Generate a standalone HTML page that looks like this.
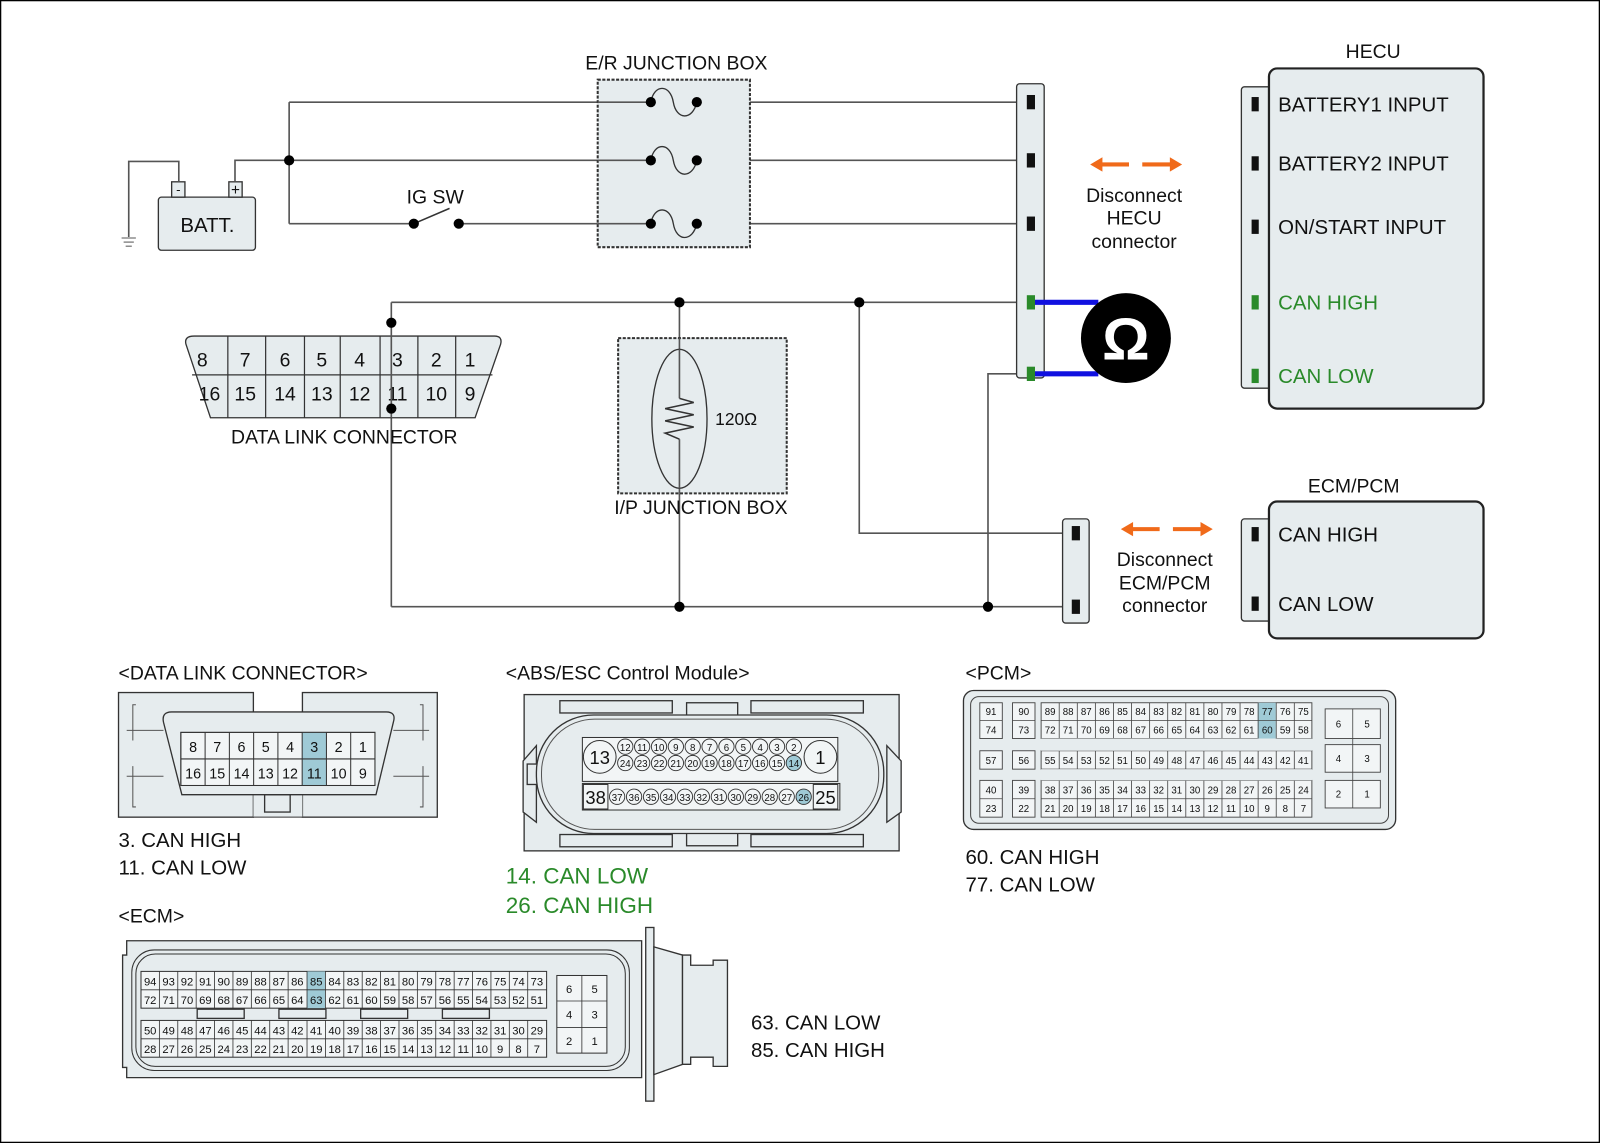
<!DOCTYPE html>
<html><head><meta charset="utf-8"><style>
html,body{margin:0;padding:0;background:#fff}
svg{display:block}
text{font-family:"Liberation Sans",sans-serif;fill:#111}
.w{stroke:#555;stroke-width:1.6;fill:none}
.b{fill:#e6ecee;stroke:#333;stroke-width:1.3}
.g{fill:#2a8a2a}
.s{font-size:11px;text-anchor:middle}
.t{font-size:9.5px;text-anchor:middle}
</style></head><body>
<svg width="1600" height="1143" viewBox="0 0 1566 1119" preserveAspectRatio="none" xmlns="http://www.w3.org/2000/svg">
<rect x="0.5" y="0.5" width="1565" height="1118" fill="#fff" stroke="#000" stroke-width="1.5"/>

<!-- battery -->
<rect x="155" y="193" width="95" height="52" rx="3" class="b"/>
<text x="203" y="227" font-size="20" text-anchor="middle">BATT.</text>
<rect x="168" y="178" width="13" height="15" class="b"/><text x="174.5" y="190" font-size="13" text-anchor="middle">-</text>
<rect x="224" y="178" width="13" height="15" class="b"/><text x="230.5" y="191" font-size="15" text-anchor="middle">+</text>
<polyline class="w" points="175,178 175,158 126,158 126,232"/>
<line x1="119" y1="233" x2="133" y2="233" stroke="#555"/><line x1="121" y1="237" x2="131" y2="237" stroke="#555"/><line x1="123" y1="241" x2="129" y2="241" stroke="#555"/>
<polyline class="w" points="230,178 230,157 283,157"/>
<line class="w" x1="283" y1="100" x2="283" y2="219"/>
<line class="w" x1="283" y1="100" x2="1008" y2="100"/>
<line class="w" x1="283" y1="157" x2="1008" y2="157"/>
<line class="w" x1="283" y1="219" x2="405" y2="219"/>
<line class="w" x1="449" y1="219" x2="1008" y2="219"/>
<line x1="405" y1="219" x2="440" y2="204" stroke="#333" stroke-width="1.5"/>
<circle cx="405" cy="219" r="5"/><circle cx="449" cy="219" r="5"/>
<circle cx="283" cy="157" r="5"/>
<text x="426" y="199" font-size="19" text-anchor="middle">IG SW</text>

<!-- E/R junction box -->
<text x="662" y="68" font-size="19" text-anchor="middle">E/R JUNCTION BOX</text>
<rect x="585" y="78" width="149" height="164" fill="#e6ecee" stroke="#333" stroke-width="2" stroke-dasharray="3,1.5"/>
<line x1="585" y1="100" x2="637" y2="100" stroke="#555" stroke-width="1.6"/><line x1="585" y1="157" x2="637" y2="157" stroke="#555" stroke-width="1.6"/><line x1="585" y1="219" x2="637" y2="219" stroke="#555" stroke-width="1.6"/>
<g fill="none" stroke="#333" stroke-width="1.3">
<path d="M637,100 C640,82 656,82 659,100 S678,118 682,100"/>
<path d="M637,157 C640,139 656,139 659,157 S678,175 682,157"/>
<path d="M637,219 C640,201 656,201 659,219 S678,237 682,219"/>
</g>
<g><circle cx="637" cy="100" r="5"/><circle cx="682" cy="100" r="5"/><circle cx="637" cy="157" r="5"/><circle cx="682" cy="157" r="5"/><circle cx="637" cy="219" r="5"/><circle cx="682" cy="219" r="5"/></g>

<!-- CAN wiring -->
<line class="w" x1="383" y1="296" x2="1008" y2="296"/>
<line class="w" x1="383" y1="296" x2="383" y2="316"/>
<line class="w" x1="383" y1="400" x2="383" y2="594"/>
<line class="w" x1="383" y1="594" x2="1052" y2="594"/>
<line class="w" x1="665" y1="296" x2="665" y2="594"/>
<polyline class="w" points="841,296 841,522 1052,522"/>
<polyline class="w" points="967,594 967,366 1008,366"/>
<circle cx="665" cy="296" r="5"/><circle cx="841" cy="296" r="5"/><circle cx="665" cy="594" r="5"/><circle cx="967" cy="594" r="5"/>

<!-- I/P junction box -->
<rect x="605" y="331" width="165" height="152" fill="#e6ecee" stroke="#333" stroke-width="2" stroke-dasharray="3,1.5"/>
<line class="w" x1="665" y1="331" x2="665" y2="483"/>
<ellipse cx="665" cy="410" rx="27" ry="68" fill="#e6ecee" stroke="#333" stroke-width="1.3"/>
<line class="w" x1="665" y1="342" x2="665" y2="390"/><line class="w" x1="665" y1="430" x2="665" y2="478"/>
<polyline fill="none" stroke="#333" stroke-width="1.5" points="665,390 679,394 651,400 679,406 651,412 679,418 651,424 665,430"/>
<text x="700" y="416" font-size="17">120Ω</text>
<text x="686" y="503" font-size="19" text-anchor="middle">I/P JUNCTION BOX</text>

<!-- DLC top -->
<path d="M190,329 L484,329 Q492,329 490,337 L465,409 L206,409 L182,337 Q180,329 190,329 Z" class="b"/>
<line x1="188" y1="367" x2="482" y2="367" stroke="#333" stroke-width="1.2"/>
<g stroke="#333" stroke-width="1.2"><line x1="223" y1="329" x2="223" y2="409"/><line x1="260" y1="329" x2="260" y2="409"/><line x1="298" y1="329" x2="298" y2="409"/><line x1="333" y1="329" x2="333" y2="409"/><line x1="372" y1="329" x2="372" y2="409"/><line x1="409" y1="329" x2="409" y2="409"/><line x1="446" y1="329" x2="446" y2="409"/></g>
<g font-size="19" text-anchor="middle">
<text x="198" y="359">8</text><text x="240" y="359">7</text><text x="279" y="359">6</text><text x="315" y="359">5</text><text x="352" y="359">4</text><text x="389" y="359">3</text><text x="427" y="359">2</text><text x="460" y="359">1</text>
<text x="205" y="392">16</text><text x="240" y="392">15</text><text x="279" y="392">14</text><text x="315" y="392">13</text><text x="352" y="392">12</text><text x="389" y="392">11</text><text x="427" y="392">10</text><text x="460" y="392">9</text></g>
<line class="w" x1="383" y1="316" x2="383" y2="409"/>
<circle cx="383" cy="316" r="5"/><circle cx="383" cy="400" r="5"/>
<text x="337" y="434" font-size="19" text-anchor="middle">DATA LINK CONNECTOR</text>

<!-- HECU side strip -->
<rect x="995" y="82" width="27" height="288" rx="3" class="b"/>
<rect x="1005" y="93" width="8" height="14" fill="#111"/><rect x="1005" y="150" width="8" height="14" fill="#111"/><rect x="1005" y="212" width="8" height="14" fill="#111"/>
<rect x="1005" y="289" width="8" height="14" class="g"/><rect x="1005" y="359" width="8" height="14" class="g"/>
<line x1="1013" y1="296" x2="1075" y2="296" stroke="#1010e0" stroke-width="5"/>
<line x1="1013" y1="366" x2="1075" y2="366" stroke="#1010e0" stroke-width="5"/>
<ellipse cx="1102" cy="331" rx="44" ry="44" fill="#000"/>
<text x="1102" y="352" font-size="58" font-weight="bold" text-anchor="middle" style="fill:#fff">Ω</text>

<!-- orange arrows -->
<g fill="#f06a1a">
<polygon points="1067,161 1079,154 1079,159 1105,159 1105,163 1079,163 1079,168"/>
<polygon points="1157,161 1145,154 1145,159 1118,159 1118,163 1145,163 1145,168"/>
<polygon points="1097,518 1109,511 1109,516 1135,516 1135,520 1109,520 1109,525"/>
<polygon points="1187,518 1175,511 1175,516 1148,516 1148,520 1175,520 1175,525"/>
</g>
<g font-size="19" text-anchor="middle">
<text x="1110" y="198">Disconnect</text><text x="1110" y="220">HECU</text><text x="1110" y="243">connector</text>
<text x="1140" y="554">Disconnect</text><text x="1140" y="577">ECM/PCM</text><text x="1140" y="599">connector</text></g>

<!-- HECU -->
<text x="1344" y="57" font-size="19" text-anchor="middle">HECU</text>
<rect x="1215" y="85" width="30" height="295" rx="3" class="b"/>
<rect x="1242" y="67" width="210" height="333" rx="8" fill="#e6ecee" stroke="#222" stroke-width="2.2"/>
<rect x="1225" y="95" width="7" height="14" fill="#111"/><rect x="1225" y="153" width="7" height="14" fill="#111"/><rect x="1225" y="215" width="7" height="14" fill="#111"/>
<rect x="1225" y="289" width="7" height="14" class="g"/><rect x="1225" y="361" width="7" height="14" class="g"/>
<g font-size="20"><text x="1251" y="109">BATTERY1 INPUT</text><text x="1251" y="167">BATTERY2 INPUT</text><text x="1251" y="229">ON/START INPUT</text>
<text x="1251" y="303" style="fill:#2a8a2a">CAN HIGH</text><text x="1251" y="375" style="fill:#2a8a2a">CAN LOW</text></g>

<!-- ECM/PCM strip + box -->
<rect x="1040" y="508" width="26" height="102" rx="3" class="b"/>
<rect x="1049" y="515" width="8" height="14" fill="#111"/><rect x="1049" y="587" width="8" height="14" fill="#111"/>
<text x="1325" y="482" font-size="19" text-anchor="middle">ECM/PCM</text>
<rect x="1215" y="508" width="30" height="100" rx="3" class="b"/>
<rect x="1242" y="491" width="210" height="134" rx="8" fill="#e6ecee" stroke="#222" stroke-width="2.2"/>
<rect x="1225" y="516" width="7" height="14" fill="#111"/><rect x="1225" y="584" width="7" height="14" fill="#111"/>
<g font-size="20"><text x="1251" y="530">CAN HIGH</text><text x="1251" y="598">CAN LOW</text></g>

<!-- bottom: DLC -->
<text x="116" y="665" font-size="19">&lt;DATA LINK CONNECTOR&gt;</text>
<rect x="116" y="678" width="132" height="122" class="b"/>
<rect x="296" y="678" width="132" height="122" class="b"/>
<rect x="248" y="700" width="48" height="100" fill="#e6ecee" stroke="none"/>
<line x1="248" y1="800" x2="296" y2="800" stroke="#333"/>
<rect x="259" y="778" width="25" height="17" class="b"/>
<g stroke="#555" fill="none"><polyline points="130,725 130,690 133,690"/><polyline points="130,750 130,790 133,790"/><polyline points="414,725 414,690 411,690"/><polyline points="414,750 414,790 411,790"/>
<line x1="124" y1="715" x2="160" y2="715"/><line x1="124" y1="760" x2="160" y2="760"/><line x1="385" y1="715" x2="420" y2="715"/><line x1="385" y1="760" x2="420" y2="760"/></g>
<path d="M168,697 L378,697 Q388,697 385,707 L368,778 L178,778 L160,707 Q158,697 168,697 Z" class="b"/>
<rect x="177" y="717" width="190" height="52" fill="#f2f5f6" stroke="#333"/>
<rect x="296" y="717" width="23.5" height="52" fill="#9fcad6"/>
<line x1="177" y1="743" x2="367" y2="743" stroke="#333"/>
<g stroke="#333"><line x1="200.75" y1="717" x2="200.75" y2="769"/><line x1="224.5" y1="717" x2="224.5" y2="769"/><line x1="248.25" y1="717" x2="248.25" y2="769"/><line x1="272" y1="717" x2="272" y2="769"/><line x1="295.75" y1="717" x2="295.75" y2="769"/><line x1="319.5" y1="717" x2="319.5" y2="769"/><line x1="343.25" y1="717" x2="343.25" y2="769"/></g>
<rect x="177" y="717" width="190" height="52" fill="none" stroke="#333"/>
<g font-size="14" text-anchor="middle"><text x="189" y="736">8</text><text x="212.6" y="736">7</text><text x="236.4" y="736">6</text><text x="260.1" y="736">5</text><text x="283.9" y="736">4</text><text x="307.6" y="736">3</text><text x="331.4" y="736">2</text><text x="355.1" y="736">1</text></g>
<g font-size="14" text-anchor="middle"><text x="189" y="762">16</text><text x="212.6" y="762">15</text><text x="236.4" y="762">14</text><text x="260.1" y="762">13</text><text x="283.9" y="762">12</text><text x="307.6" y="762">11</text><text x="331.4" y="762">10</text><text x="355.1" y="762">9</text></g>
<text x="116" y="829" font-size="20">3. CAN HIGH</text>
<text x="116" y="856" font-size="20">11. CAN LOW</text>

<!-- ABS -->
<text x="495" y="665" font-size="19">&lt;ABS/ESC Control Module&gt;</text>
<rect x="513" y="680" width="367" height="153" class="b"/>
<path d="M525,730 L512,745 L512,795 L525,805 Z M868,730 L882,745 L882,795 L868,805 Z" class="b"/>
<g class="b"><rect x="548" y="686" width="110" height="12"/><rect x="735" y="686" width="110" height="12"/><rect x="548" y="817" width="110" height="12"/><rect x="735" y="817" width="110" height="12"/><rect x="672" y="688" width="50" height="20"/><rect x="672" y="806" width="50" height="22"/>
<rect x="516" y="748" width="10" height="20"/><rect x="849" y="745" width="7" height="12"/><rect x="849" y="762" width="7" height="12"/></g>
<rect x="525" y="700" width="340" height="116" rx="56" fill="#e6ecee" stroke="#333" stroke-width="1.3"/>
<rect x="530" y="704" width="330" height="108" rx="52" fill="none" stroke="#555"/>
<rect x="570" y="722" width="250" height="43" fill="#f2f5f6" stroke="#333"/>
<circle cx="587" cy="741" r="16" fill="#f2f5f6" stroke="#333"/><circle cx="803" cy="741" r="16" fill="#f2f5f6" stroke="#333"/>
<text x="587" y="748" font-size="18" text-anchor="middle">13</text><text x="803" y="748" font-size="18" text-anchor="middle">1</text>
<g fill="#f2f5f6" stroke="#333" stroke-width="0.9">
<circle cx="612" cy="731" r="7.5"/><circle cx="628.5" cy="731" r="7.5"/><circle cx="645" cy="731" r="7.5"/><circle cx="661.5" cy="731" r="7.5"/><circle cx="678" cy="731" r="7.5"/><circle cx="694.5" cy="731" r="7.5"/><circle cx="711" cy="731" r="7.5"/><circle cx="727.5" cy="731" r="7.5"/><circle cx="744" cy="731" r="7.5"/><circle cx="760.5" cy="731" r="7.5"/><circle cx="777" cy="731" r="7.5"/>
<circle cx="612" cy="747" r="7.5"/><circle cx="628.5" cy="747" r="7.5"/><circle cx="645" cy="747" r="7.5"/><circle cx="661.5" cy="747" r="7.5"/><circle cx="678" cy="747" r="7.5"/><circle cx="694.5" cy="747" r="7.5"/><circle cx="711" cy="747" r="7.5"/><circle cx="727.5" cy="747" r="7.5"/><circle cx="744" cy="747" r="7.5"/><circle cx="760.5" cy="747" r="7.5"/><circle cx="777" cy="747" r="7.5" fill="#9fcad6"/></g>
<g class="t"><text x="612" y="735">12</text><text x="628.5" y="735">11</text><text x="645" y="735">10</text><text x="661.5" y="735">9</text><text x="678" y="735">8</text><text x="694.5" y="735">7</text><text x="711" y="735">6</text><text x="727.5" y="735">5</text><text x="744" y="735">4</text><text x="760.5" y="735">3</text><text x="777" y="735">2</text>
<text x="612" y="751">24</text><text x="628.5" y="751">23</text><text x="645" y="751">22</text><text x="661.5" y="751">21</text><text x="678" y="751">20</text><text x="694.5" y="751">19</text><text x="711" y="751">18</text><text x="727.5" y="751">17</text><text x="744" y="751">16</text><text x="760.5" y="751">15</text><text x="777" y="751">14</text></g>
<rect x="570" y="767" width="252" height="26" fill="#f2f5f6" stroke="#333"/>
<rect x="571" y="768" width="24" height="24" fill="#f2f5f6" stroke="#333"/><rect x="796" y="768" width="24" height="24" fill="#f2f5f6" stroke="#333"/>
<text x="583" y="787" font-size="18" text-anchor="middle">38</text><text x="808" y="787" font-size="18" text-anchor="middle">25</text>
<g fill="#f2f5f6" stroke="#333" stroke-width="0.9">
<circle cx="604" cy="780" r="7.5"/><circle cx="620.6" cy="780" r="7.5"/><circle cx="637.2" cy="780" r="7.5"/><circle cx="653.8" cy="780" r="7.5"/><circle cx="670.4" cy="780" r="7.5"/><circle cx="687" cy="780" r="7.5"/><circle cx="703.6" cy="780" r="7.5"/><circle cx="720.2" cy="780" r="7.5"/><circle cx="736.8" cy="780" r="7.5"/><circle cx="753.4" cy="780" r="7.5"/><circle cx="770" cy="780" r="7.5"/><circle cx="786.6" cy="780" r="7.5" fill="#9fcad6"/></g>
<g class="t"><text x="604" y="784">37</text><text x="620.6" y="784">36</text><text x="637.2" y="784">35</text><text x="653.8" y="784">34</text><text x="670.4" y="784">33</text><text x="687" y="784">32</text><text x="703.6" y="784">31</text><text x="720.2" y="784">30</text><text x="736.8" y="784">29</text><text x="753.4" y="784">28</text><text x="770" y="784">27</text><text x="786.6" y="784">26</text></g>
<text x="495" y="865" font-size="22" style="fill:#2a8a2a">14. CAN LOW</text>
<text x="495" y="894" font-size="22" style="fill:#2a8a2a">26. CAN HIGH</text>

<!-- PCM -->
<text x="945" y="665" font-size="19">&lt;PCM&gt;</text>
<rect x="943" y="676" width="423" height="136" rx="10" class="b"/>
<rect x="950" y="682" width="409" height="124" rx="8" fill="none" stroke="#444"/>
<g fill="#f2f5f6" stroke="#444" stroke-width="0.9">
<rect x="959" y="688" width="22" height="35"/><rect x="991" y="688" width="22" height="35"/><rect x="1019" y="688" width="265" height="35"/>
<rect x="959" y="735" width="22" height="18"/><rect x="991" y="735" width="22" height="18"/><rect x="1019" y="735" width="265" height="18"/>
<rect x="959" y="764" width="22" height="36"/><rect x="991" y="764" width="22" height="36"/><rect x="1019" y="764" width="265" height="36"/>
<rect x="1297" y="694" width="54" height="29"/><rect x="1297" y="729" width="54" height="27"/><rect x="1297" y="764" width="54" height="27"/>
</g>
<rect x="1231" y="688" width="17.7" height="35" fill="#9fcad6"/>
<g stroke="#444" stroke-width="0.8">
<line x1="959" y1="705.5" x2="981" y2="705.5"/><line x1="991" y1="705.5" x2="1013" y2="705.5"/><line x1="1019" y1="705.5" x2="1284" y2="705.5"/>
<line x1="959" y1="782" x2="981" y2="782"/><line x1="991" y1="782" x2="1013" y2="782"/><line x1="1019" y1="782" x2="1284" y2="782"/>
<line x1="1324" y1="694" x2="1324" y2="791"/>
<path d="M1036.7,688V800M1054.4,688V800M1072.1,688V800M1089.8,688V800M1107.5,688V800M1125.2,688V800M1142.9,688V800M1160.6,688V800M1178.3,688V800M1196,688V800M1213.7,688V800M1231.4,688V800M1249.1,688V800M1266.8,688V800" fill="none"/>
</g>
<rect x="1019" y="723" width="265" height="12" fill="#e6ecee"/><rect x="1019" y="753" width="265" height="11" fill="#e6ecee"/>
<g class="t" font-size="9">
<text x="970" y="700">91</text><text x="1002" y="700">90</text><text x="970" y="718">74</text><text x="1002" y="718">73</text>
<text x="970" y="748">57</text><text x="1002" y="748">56</text>
<text x="970" y="777">40</text><text x="1002" y="777">39</text><text x="970" y="795">23</text><text x="1002" y="795">22</text>
<text x="1027.8" y="700">89</text><text x="1045.5" y="700">88</text><text x="1063.2" y="700">87</text><text x="1081" y="700">86</text><text x="1098.7" y="700">85</text><text x="1116.4" y="700">84</text><text x="1134" y="700">83</text><text x="1151.8" y="700">82</text><text x="1169.5" y="700">81</text><text x="1187.2" y="700">80</text><text x="1204.9" y="700">79</text><text x="1222.6" y="700">78</text><text x="1240.3" y="700">77</text><text x="1258" y="700">76</text><text x="1275.7" y="700">75</text>
<text x="1027.8" y="718">72</text><text x="1045.5" y="718">71</text><text x="1063.2" y="718">70</text><text x="1081" y="718">69</text><text x="1098.7" y="718">68</text><text x="1116.4" y="718">67</text><text x="1134" y="718">66</text><text x="1151.8" y="718">65</text><text x="1169.5" y="718">64</text><text x="1187.2" y="718">63</text><text x="1204.9" y="718">62</text><text x="1222.6" y="718">61</text><text x="1240.3" y="718">60</text><text x="1258" y="718">59</text><text x="1275.7" y="718">58</text>
<text x="1027.8" y="748">55</text><text x="1045.5" y="748">54</text><text x="1063.2" y="748">53</text><text x="1081" y="748">52</text><text x="1098.7" y="748">51</text><text x="1116.4" y="748">50</text><text x="1134" y="748">49</text><text x="1151.8" y="748">48</text><text x="1169.5" y="748">47</text><text x="1187.2" y="748">46</text><text x="1204.9" y="748">45</text><text x="1222.6" y="748">44</text><text x="1240.3" y="748">43</text><text x="1258" y="748">42</text><text x="1275.7" y="748">41</text>
<text x="1027.8" y="777">38</text><text x="1045.5" y="777">37</text><text x="1063.2" y="777">36</text><text x="1081" y="777">35</text><text x="1098.7" y="777">34</text><text x="1116.4" y="777">33</text><text x="1134" y="777">32</text><text x="1151.8" y="777">31</text><text x="1169.5" y="777">30</text><text x="1187.2" y="777">29</text><text x="1204.9" y="777">28</text><text x="1222.6" y="777">27</text><text x="1240.3" y="777">26</text><text x="1258" y="777">25</text><text x="1275.7" y="777">24</text>
<text x="1027.8" y="795">21</text><text x="1045.5" y="795">20</text><text x="1063.2" y="795">19</text><text x="1081" y="795">18</text><text x="1098.7" y="795">17</text><text x="1116.4" y="795">16</text><text x="1134" y="795">15</text><text x="1151.8" y="795">14</text><text x="1169.5" y="795">13</text><text x="1187.2" y="795">12</text><text x="1204.9" y="795">11</text><text x="1222.6" y="795">10</text><text x="1240.3" y="795">9</text><text x="1258" y="795">8</text><text x="1275.7" y="795">7</text>
<text x="1310" y="712">6</text><text x="1338" y="712">5</text><text x="1310" y="746">4</text><text x="1338" y="746">3</text><text x="1310" y="781">2</text><text x="1338" y="781">1</text>
</g>
<text x="945" y="846" font-size="20">60. CAN HIGH</text>
<text x="945" y="873" font-size="20">77. CAN LOW</text>

<!-- ECM -->
<text x="116" y="903" font-size="19">&lt;ECM&gt;</text>
<path d="M124,921 L628,921 L628,1055 L124,1055 L124,1045 L120,1045 L120,935 L124,935 Z" class="b"/>
<rect x="129" y="930" width="487" height="118" rx="22" fill="none" stroke="#333"/>
<rect x="133" y="934" width="479" height="110" rx="19" fill="none" stroke="#333"/>
<rect x="632" y="908" width="8" height="170" class="b"/>
<path d="M640,927 L668,935 L668,1042 L640,1052 Z" class="b"/>
<path d="M668,935 L676,935 L676,945 L698,945 L698,940 L712,940 L712,1044 L698,1044 L698,1035 L676,1035 L676,1042 L668,1042 Z" class="b"/>
<rect x="138" y="951" width="397" height="36" fill="#f2f5f6" stroke="#333"/>
<rect x="138" y="999" width="397" height="36" fill="#f2f5f6" stroke="#333"/>
<rect x="300.5" y="951" width="18" height="36" fill="#9fcad6"/>
<g class="b"><rect x="193" y="988" width="46" height="9"/><rect x="273" y="988" width="46" height="9"/><rect x="353" y="988" width="46" height="9"/><rect x="433" y="988" width="46" height="9"/></g>
<g stroke="#333" stroke-width="0.8" fill="none">
<line x1="138" y1="969" x2="535" y2="969"/><line x1="138" y1="1017" x2="535" y2="1017"/>
<path d="M156,951V987M174,951V987M192,951V987M210,951V987M228,951V987M246,951V987M264,951V987M282,951V987M300.5,951V987M318.5,951V987M336.5,951V987M354.5,951V987M372.5,951V987M390.5,951V987M408.5,951V987M426.5,951V987M444.5,951V987M462.5,951V987M480.5,951V987M498.5,951V987M516.5,951V987"/>
<path d="M156,999V1035M174,999V1035M192,999V1035M210,999V1035M228,999V1035M246,999V1035M264,999V1035M282,999V1035M300.5,999V1035M318.5,999V1035M336.5,999V1035M354.5,999V1035M372.5,999V1035M390.5,999V1035M408.5,999V1035M426.5,999V1035M444.5,999V1035M462.5,999V1035M480.5,999V1035M498.5,999V1035M516.5,999V1035"/>
</g>
<rect x="545" y="955" width="49" height="76" fill="#f2f5f6" stroke="#333"/>
<g stroke="#333" stroke-width="0.8"><line x1="569.5" y1="955" x2="569.5" y2="1031"/><line x1="545" y1="980" x2="594" y2="980"/><line x1="545" y1="1006" x2="594" y2="1006"/></g>
<g class="s">
<text x="147" y="965">94</text><text x="165" y="965">93</text><text x="183" y="965">92</text><text x="201" y="965">91</text><text x="219" y="965">90</text><text x="237" y="965">89</text><text x="255" y="965">88</text><text x="273" y="965">87</text><text x="291" y="965">86</text><text x="309.5" y="965">85</text><text x="327.5" y="965">84</text><text x="345.5" y="965">83</text><text x="363.5" y="965">82</text><text x="381.5" y="965">81</text><text x="399.5" y="965">80</text><text x="417.5" y="965">79</text><text x="435.5" y="965">78</text><text x="453.5" y="965">77</text><text x="471.5" y="965">76</text><text x="489.5" y="965">75</text><text x="507.5" y="965">74</text><text x="525.5" y="965">73</text>
<text x="147" y="983">72</text><text x="165" y="983">71</text><text x="183" y="983">70</text><text x="201" y="983">69</text><text x="219" y="983">68</text><text x="237" y="983">67</text><text x="255" y="983">66</text><text x="273" y="983">65</text><text x="291" y="983">64</text><text x="309.5" y="983">63</text><text x="327.5" y="983">62</text><text x="345.5" y="983">61</text><text x="363.5" y="983">60</text><text x="381.5" y="983">59</text><text x="399.5" y="983">58</text><text x="417.5" y="983">57</text><text x="435.5" y="983">56</text><text x="453.5" y="983">55</text><text x="471.5" y="983">54</text><text x="489.5" y="983">53</text><text x="507.5" y="983">52</text><text x="525.5" y="983">51</text>
<text x="147" y="1013">50</text><text x="165" y="1013">49</text><text x="183" y="1013">48</text><text x="201" y="1013">47</text><text x="219" y="1013">46</text><text x="237" y="1013">45</text><text x="255" y="1013">44</text><text x="273" y="1013">43</text><text x="291" y="1013">42</text><text x="309.5" y="1013">41</text><text x="327.5" y="1013">40</text><text x="345.5" y="1013">39</text><text x="363.5" y="1013">38</text><text x="381.5" y="1013">37</text><text x="399.5" y="1013">36</text><text x="417.5" y="1013">35</text><text x="435.5" y="1013">34</text><text x="453.5" y="1013">33</text><text x="471.5" y="1013">32</text><text x="489.5" y="1013">31</text><text x="507.5" y="1013">30</text><text x="525.5" y="1013">29</text>
<text x="147" y="1031">28</text><text x="165" y="1031">27</text><text x="183" y="1031">26</text><text x="201" y="1031">25</text><text x="219" y="1031">24</text><text x="237" y="1031">23</text><text x="255" y="1031">22</text><text x="273" y="1031">21</text><text x="291" y="1031">20</text><text x="309.5" y="1031">19</text><text x="327.5" y="1031">18</text><text x="345.5" y="1031">17</text><text x="363.5" y="1031">16</text><text x="381.5" y="1031">15</text><text x="399.5" y="1031">14</text><text x="417.5" y="1031">13</text><text x="435.5" y="1031">12</text><text x="453.5" y="1031">11</text><text x="471.5" y="1031">10</text><text x="489.5" y="1031">9</text><text x="507.5" y="1031">8</text><text x="525.5" y="1031">7</text>
<text x="557" y="972">6</text><text x="582" y="972">5</text><text x="557" y="997">4</text><text x="582" y="997">3</text><text x="557" y="1023">2</text><text x="582" y="1023">1</text>
</g>
<text x="735" y="1008" font-size="20">63. CAN LOW</text>
<text x="735" y="1035" font-size="20">85. CAN HIGH</text>
</svg>
</body></html>
